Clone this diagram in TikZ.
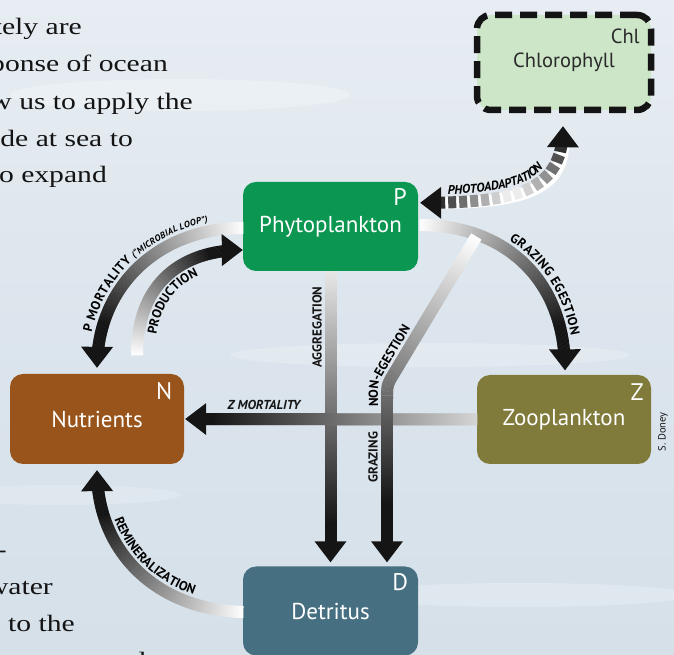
\documentclass[tikz,border=0pt]{standalone}
\usepackage{fontspec}
\setmainfont{PT Sans}
\newfontfamily\bodyfont[FakeStretch=1.26]{Liberation Serif}
\usetikzlibrary{decorations.markings,decorations.text,calc}
\definecolor{skytop}{HTML}{E7EDF2}
\definecolor{skymid}{HTML}{DCE5ED}
\definecolor{skybot}{HTML}{D5E0E9}
\definecolor{chlfill}{HTML}{CDE6C8}
\definecolor{pfill}{HTML}{0B9651}
\definecolor{nfill}{HTML}{98541A}
\definecolor{zfill}{HTML}{807A3B}
\definecolor{dfill}{HTML}{466F81}
\definecolor{adark}{HTML}{151515}
\definecolor{chltext}{HTML}{2A2A2A}
\newcommand\labfont{\fontsize{13}{13}\selectfont\bfseries}
\newcommand\labitfont{\fontsize{13}{13}\selectfont\bfseries\itshape}
\newcommand\phfont{\fontsize{12.5}{13}\selectfont\bfseries\itshape}
\newcommand\smitfont{\fontsize{9}{9}\selectfont\bfseries\itshape}
\newcommand\gprep{%
  \pgfmathsetmacro\gdist{\pgfkeysvalueof{/pgf/decoration/mark info/distance from start}}%
  \pgfmathsetmacro\glen{\pgfdecoratedpathlength}%
  \pgfmathsetmacro\gfr{\gdist/\glen}}
\newcommand\gseg{%
  \gprep
  \pgfmathsetmacro\gpc{min(100,\gst+(100-\gst)*\gex*\gfr)}%
  \ifdim\dimexpr\glen pt-\gdist pt\relax>14pt
    \fill[adark!\gpc!white] (-0.6pt,-6pt) rectangle (0.6pt,6pt);\fi}
\newcommand\pseg{%
  \gprep
  \pgfmathsetmacro\gpc{max(8,min(100,115*abs(2*\gfr-1)))}%
  \ifdim\gdist pt>15pt \ifdim\dimexpr\glen pt-\gdist pt\relax>15pt
    \fill[adark!\gpc!white] (-4pt,-6pt) rectangle (4pt,6pt);\fi\fi}
\tikzset{
  gst/.store in=\gst, gst=0,
  gex/.store in=\gex, gex=1.2,
  box/.style={rounded corners=13pt, minimum width=175pt, minimum height=89pt,
    inner sep=0pt, text=white, font=\fontsize{23}{27}\selectfont},
  tag/.style={anchor=center, text=white, font=\fontsize{24}{28}\selectfont, inner sep=0pt},
  body/.style={anchor=base east, inner sep=0pt, text=black!92,
    font=\bodyfont\fontsize{23.5}{24}\selectfont},
  lab/.style={inner sep=0pt, text=adark, font=\labfont},
  headend/.style={postaction={decorate, decoration={markings,
     mark=at position -1pt with {\fill[adark] (1pt,0pt) -- (-20pt,16pt) -- (-20pt,-16pt) -- cycle;}}}},
  headstart/.style={postaction={decorate, decoration={markings,
     mark=at position 1pt with {\fill[adark] (-1pt,0pt) -- (20pt,16pt) -- (20pt,-16pt) -- cycle;}}}},
  flow/.style={postaction={decorate, decoration={markings,
     mark=between positions 0 and 1 step 0.8pt with {\gseg}}}, headend},
  photo/.style={postaction={decorate, decoration={markings,
     mark=between positions 0 and 1 step 11pt with {\pseg}}}, headstart, headend},
  along/.style 2 args={decorate, decoration={text along path, text={#2},
     text align={left, left indent=#1}}},
}
\begin{document}
\begin{tikzpicture}[x=1pt,y=1pt]
\useasboundingbox (0,0) rectangle (674,655);
\clip (0,0) rectangle (674,655);
\fill[top color=skytop, bottom color=skybot, middle color=skymid] (0,0) rectangle (674,655);
\fill[white, opacity=0.25] (180,560) ellipse (170 and 16);
\fill[white, opacity=0.2] (430,300) ellipse (200 and 12);
\fill[white, opacity=0.25] (520,60) ellipse (170 and 12);
\fill[white, opacity=0.2] (60,160) ellipse (120 and 10);

% body text fragments
\node[body] (t1) at (82,620) {tely are};
\node[body] (t2) at (168,583) {ponse of ocean};
\node[body] (t3) at (193,545) {w us to apply the};
\node[body] (t4) at (133,508) {de at sea to};
\node[body] (t5) at (107,472) {o expand};
\node[body] (t6) at (7,97) {-};
\node[body] (t7) at (53,60) {water};
\node[body] (t8) at (75,23) {s to the};
\node[body, anchor=base west] (t9) at (131,-14) {d};

% boxes
\node[box, fill=pfill] (P) at (330.5,428.5) {Phytoplankton};
\node[box, fill=nfill, minimum width=174pt, minimum height=90pt] (N) at (97,236) {Nutrients};
\node[box, fill=zfill, minimum width=174pt] (Z) at (564,235.5) {Zooplankton};
\node[box, fill=dfill] (D) at (330.5,44) {Detritus};
\node[draw=black!92, line width=6.5pt, dash pattern=on 17pt off 8pt, rounded corners=14pt,
      fill=chlfill, minimum width=174pt, minimum height=95pt, inner sep=0pt,
      text=chltext, font=\fontsize{20.5}{24}\selectfont] (Chl) at (564,592.5) {Chlorophyll};
\node[tag] (Ptag) at ($(P.north east)+(-18,-15)$) {P};
\node[tag] (Ntag) at ($(N.north east)+(-20,-17)$) {N};
\node[tag] (Ztag) at ($(Z.north east)+(-14,-17)$) {Z};
\node[tag] (Dtag) at ($(D.north east)+(-18,-16)$) {D};
\node[tag, text=chltext, font=\fontsize{20.5}{24}\selectfont] (Chltag) at ($(Chl.north east)+(-29,-25)$) {Chl};

% named end points
\coordinate (chlTip) at ($(Chl.south)+(-1,-13)$);
\coordinate (pPhoto) at ($(P.north east)+(2,-21)$);
\coordinate (pRight) at ($(P.east)+(2,1.5)$);
\coordinate (zTop) at ($(Z.north)+(1,4.5)$);
\coordinate (branch) at (476,418);
\coordinate (bendA) at (394.2,282);
\coordinate (bend) at (387,270);
\coordinate (bendB) at (387,256);
\coordinate (dGraz) at ($(D.north)+(56.5,4)$);
\coordinate (dAgg) at ($(D.north)+(0,4)$);
\coordinate (nRight) at ($(N.east)+(1,0)$);
\coordinate (pLeftHi) at ($(P.west)+(0,-1.5)$);
\coordinate (nTopL) at ($(N.north)+(0,6)$);
\coordinate (nTopR) at ($(N.north)+(40,19)$);
\coordinate (pLeftLo) at ($(P.west)+(0,-23.5)$);
\coordinate (dLeft) at ($(D.west)+(0,-1)$);
\coordinate (nBot) at ($(N.south)+(0,-6)$);

% photoadaptation (double headed, segmented)
\draw[white, line width=12pt, shorten <=18pt, shorten >=18pt]
  (chlTip) .. controls (563,465) and (520,452) .. (pPhoto);
\path[photo] (chlTip) .. controls (563,465) and (520,452) .. (pPhoto);
\path[along={28pt}{|\phfont|PHOTOADAPTATION}, decoration={raise=8pt}]
  (pPhoto) .. controls (520,452) and (563,465) .. (chlTip);

% aggregation
\path[flow, gst=10, gex=1.15] (P.south) -- (dAgg);
\node[lab, rotate=90] (aggL) at (317,328) {AGGREGATION};

% Z mortality
\path[flow, gst=18, gex=1.1] (Z.west) -- (nRight);
\node[lab, font=\labitfont] (zmL) at (264,250) {Z MORTALITY};

% grazing egestion
\path[flow, gst=0, gex=1.25] (pRight) .. controls (500,430) and (565,380) .. (zTop);
\path[along={88pt}{|\labfont|GRAZING EGESTION}, decoration={raise=9pt}]
  (pRight) .. controls (500,430) and (565,380) .. (zTop);

% non-egestion / grazing
\path[flow, gst=0, gex=1.2] (branch) -- (bendA) .. controls (bend) .. (bendB) -- (dGraz);
\path[along={156pt}{|\labfont|NON-EGESTION}]
  (378,92) -- (378,258) .. controls (378,272.5) .. (385.5,285) -- (468.3,422.6);
\node[lab, rotate=90] (grL) at (373,198) {GRAZING};

% P mortality
\path[flow, gst=0, gex=1.25] (pLeftHi) .. controls (160,427) and (97,370) .. (nTopL);
\path[along={33pt}{|\labfont|P MORTALITY |\smitfont|(“MICROBIAL LOOP”)}, decoration={raise=9pt}]
  (nTopL) .. controls (97,370) and (160,427) .. (pLeftHi);

% production
\path[flow, gst=0, gex=1.25] (nTopR) .. controls (137,370) and (180,405) .. (pLeftLo);
\path[along={20pt}{|\labfont|PRODUCTION}]
  ($(nTopR)+(18,0)$) .. controls (155,362) and (190,387) .. ($(pLeftLo)+(0,-18)$);

% remineralization
\path[flow, gst=0, gex=1.25] (dLeft) .. controls (160,45) and (97,100) .. (nBot);
\path[along={50pt}{|\labfont|REMINERALIZATION}]
  ($(nBot)+(9,0)$) .. controls (106,105) and (164,54) .. ($(dLeft)+(0,9)$);

\node[lab, rotate=90, font=\fontsize{10.5}{12}\selectfont] (credit) at (663,223) {S. Doney};
\end{tikzpicture}
\end{document}
